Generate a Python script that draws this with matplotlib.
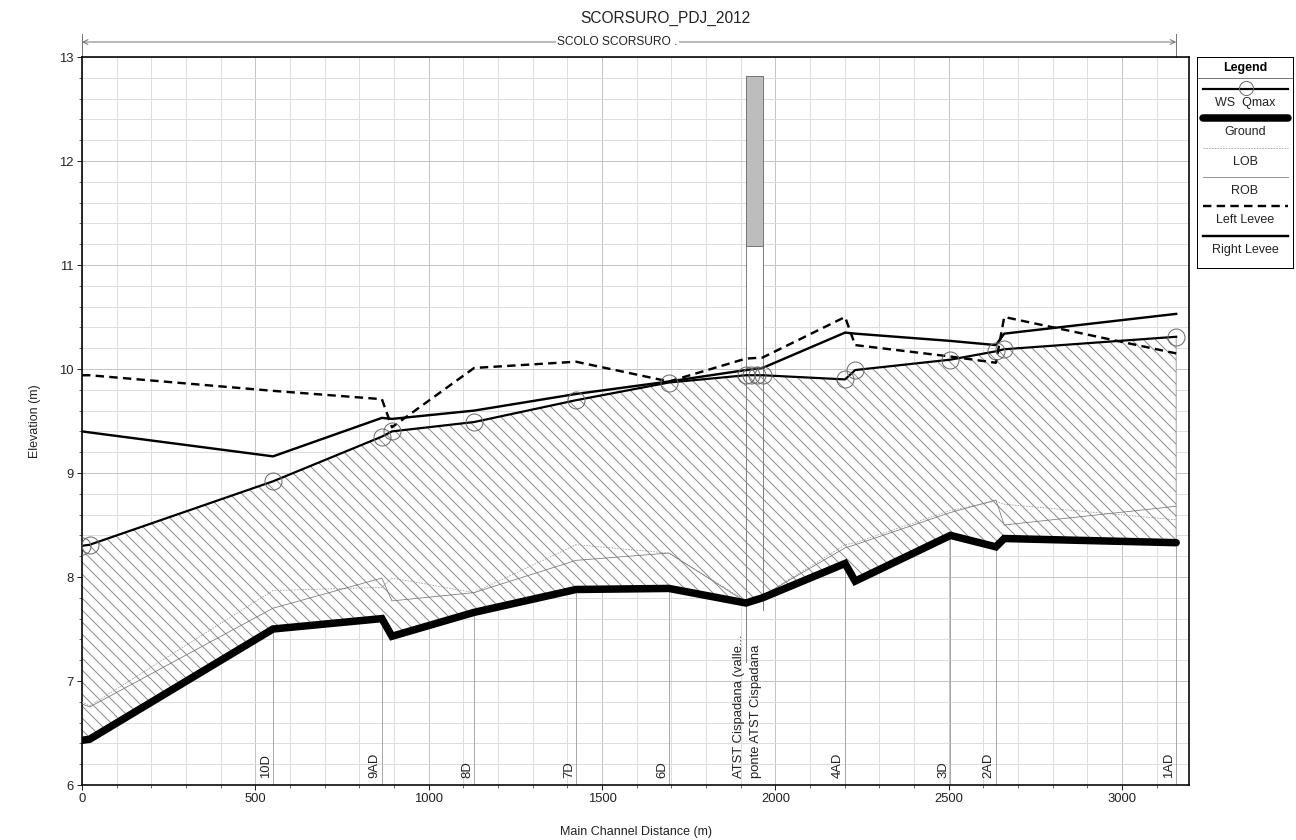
import matplotlib
matplotlib.use("Agg")
import matplotlib.pyplot as plt
from matplotlib.ticker import MultipleLocator
import numpy as np

plt.rcParams['font.family'] = ['Liberation Sans', 'DejaVu Sans']
plt.rcParams['hatch.color'] = '#8c8c8c'
plt.rcParams['hatch.linewidth'] = 1.0

# ---- profile data (main channel distance in m, elevations in m) ----
stations = [0, 22, 551, 865, 894, 1131, 1425, 1693, 1915, 1963, 2201, 2230, 2505, 2636, 2660, 3156]
ground = [6.43, 6.44, 7.50, 7.60, 7.43, 7.66, 7.88, 7.89, 7.75, 7.80, 8.13, 7.96, 8.40, 8.29, 8.37, 8.33]
ws_qmax = [8.30, 8.31, 8.92, 9.35, 9.40, 9.49, 9.70, 9.87, 9.94, 9.94, 9.90, 9.99, 10.09, 10.17, 10.19, 10.31]
lob = [6.80, 6.76, 7.87, 7.90, 7.99, 7.85, 8.31, 8.23, 7.77, 7.82, 8.31, 8.33, 8.64, 8.73, 8.70, 8.55]
rob = [6.78, 6.75, 7.70, 7.99, 7.77, 7.85, 8.16, 8.23, 7.76, 7.82, 8.28, 8.31, 8.62, 8.74, 8.50, 8.68]
left_levee = [9.94, 9.94, 9.79, 9.71, 9.44, 10.01, 10.07, 9.88, 10.10, 10.11, 10.50, 10.23, 10.12, 10.06, 10.50, 10.15]
right_levee = [9.40, 9.39, 9.16, 9.53, 9.52, 9.60, 9.76, 9.88, 9.99, 10.01, 10.35, 10.34, 10.27, 10.23, 10.34, 10.53]

# bridge internal sections
bridge_sections = [1930, 1948]
bridge_ws = [9.94, 9.94]

# labelled cross sections
label_stations = [551, 865, 1131, 1425, 1693, 1915, 1963, 2201, 2505, 2636, 3156]
label_texts = ['10D', '9AD', '8D', '7D', '6D', 'ATST Cispadana (valle...',
               'ponte ATST Cispadana', '4AD', '3D', '2AD', '1AD']

# bridge deck
bridge_up, bridge_down = 1915, 1963
deck_low, deck_high = 11.18, 12.82
pier_bottom = [7.18, 7.68]

reach_name = 'SCOLO SCORSURO .'
title = 'SCORSURO_PDJ_2012'

# ---- figure ----
W, H = 1296, 840
fig = plt.figure(figsize=(W / 72, H / 72), dpi=72)
ax = fig.add_axes([82 / W, 1 - 785 / H, (1189 - 82) / W, (785 - 57) / H])

ax.set_xlim(0, 3193)
ax.set_ylim(6, 13)
ax.xaxis.set_major_locator(MultipleLocator(500))
ax.xaxis.set_minor_locator(MultipleLocator(100))
ax.yaxis.set_major_locator(MultipleLocator(1))
ax.yaxis.set_minor_locator(MultipleLocator(0.2))
ax.grid(which='major', color='#c4c4c4', lw=1.0, zorder=0)
ax.grid(which='minor', color='#dedede', lw=1.0, zorder=0)
ax.set_axisbelow(True)
ax.tick_params(which='major', direction='out', length=5, width=1, labelsize=13, colors='#222222')
ax.tick_params(which='minor', direction='out', length=3, width=0.8, colors='#444444')
for s in ax.spines.values():
    s.set_linewidth(1.6)
    s.set_color('black')

st = np.array(stations, dtype=float)
gr = np.array(ground)
ws = np.array(ws_qmax)

# hatched flow area between ground and water surface
ax.fill_between(st, gr, ws, facecolor='white', edgecolor='#8c8c8c', hatch='\\\\', lw=0.8, zorder=1)

# labelled cross-section lines from bottom up to ground
for xs, lab in zip(label_stations, label_texts):
    g = np.interp(xs, st, gr)
    if xs not in (bridge_up, bridge_down):
        ax.plot([xs, xs], [6, g], color='#a0a0a0', lw=0.9, zorder=1.5)
    ax.text(xs - 3, 6.07, lab, rotation=90, ha='left', va='bottom',
            fontsize=13, color='#222222', zorder=6, rotation_mode='anchor')

# bridge: opening above water, deck, pier lines
top_wl = max(np.interp(bridge_up, st, np.array(left_levee)), np.interp(bridge_down, st, np.array(left_levee)))
ax.fill_between([bridge_up, bridge_down], [top_wl, top_wl], [deck_low, deck_low],
                facecolor='white', edgecolor='none', zorder=1.2)
ax.fill_between([bridge_up, bridge_down], [deck_low, deck_low], [deck_high, deck_high],
                facecolor='#bdbdbd', edgecolor='#777777', lw=1.0, zorder=2)
ax.plot([bridge_up, bridge_up], [pier_bottom[0], deck_low], color='#808080', lw=1.0, zorder=2)
ax.plot([bridge_down, bridge_down], [pier_bottom[1], deck_low], color='#808080', lw=1.0, zorder=2)

# bank stations
ax.plot(st, lob, color='#9a9a9a', lw=0.8, ls=(0, (2, 1.5)), zorder=3)
ax.plot(st, rob, color='#7a7a7a', lw=0.8, zorder=3)

# levees
ax.plot(st, left_levee, color='black', lw=2.4, ls=(0, (3.5, 2.2)), zorder=4)
ax.plot(st, right_levee, color='black', lw=2.4, zorder=4)

# ground
ax.plot(st, gr, color='black', lw=7.5, solid_capstyle='round', solid_joinstyle='miter', zorder=5)

# water surface with section markers
ax.plot(st, ws, color='black', lw=2.2, zorder=5)
ax.plot(st, ws, ls='none', marker='o', ms=17, mfc='none', mec='#6a6a6a', mew=1.0, zorder=5.5)
ax.plot(bridge_sections, bridge_ws, ls='none', marker='o', ms=17, mfc='none', mec='#6a6a6a', mew=1.0, zorder=5.5)

# axis labels and title
ax.set_xlabel('Main Channel Distance (m)', fontsize=12.5, labelpad=20, color='#222222')
ax.set_ylabel('Elevation (m)', fontsize=12.5, labelpad=18, color='#222222')
fig.text(665 / W, 1 - 18 / H, title, ha='center', va='center', fontsize=15.5, color='#222222')

# reach extent arrow
xt = ax.get_xaxis_transform()
y_arr = (785 - 42) / (785 - 57)
y_top = (785 - 34) / (785 - 57)
ax.annotate('', xy=(0, y_arr), xytext=(stations[-1], y_arr), xycoords=xt, textcoords=xt,
            arrowprops=dict(arrowstyle='<->', color='#777777', lw=1.0, shrinkA=0, shrinkB=0,
                            mutation_scale=12))
for xe in (0, stations[-1]):
    ax.plot([xe, xe], [1.0, y_top], transform=xt, color='#777777', lw=1.0, clip_on=False)
ax.text(1545, y_arr, reach_name, transform=xt, ha='center', va='center', fontsize=12,
        color='#222222', bbox=dict(facecolor='white', edgecolor='none', pad=1.5))

# legend box
lg = fig.add_axes([1197 / W, 1 - 268 / H, 96 / W, 211 / H])
lg.set_xlim(0, 96)
lg.set_ylim(211, 0)
lg.set_xticks([])
lg.set_yticks([])
for s in lg.spines.values():
    s.set_linewidth(1.0)
lg.text(48, 11, 'Legend', ha='center', va='center', fontsize=12.5, fontweight='bold')
lg.plot([0, 96], [21, 21], color='#555555', lw=0.8)
entries = [
    ('WS  Qmax', dict(color='black', lw=2.2)),
    ('Ground', dict(color='black', lw=7.5, solid_capstyle='round')),
    ('LOB', dict(color='#9a9a9a', lw=0.8, ls=(0, (2, 1.5)))),
    ('ROB', dict(color='#7a7a7a', lw=0.8)),
    ('Left Levee', dict(color='black', lw=2.4, ls=(0, (3.5, 2.2)))),
    ('Right Levee', dict(color='black', lw=2.4)),
]
for i, (name, style) in enumerate(entries):
    yl = 32 + i * 29.3
    lg.plot([6, 91], [yl, yl], **style)
    lg.text(48, yl + 14, name, ha='center', va='center', fontsize=12.5, color='#222222')
lg.plot([49], [31], ls='none', marker='o', ms=14, mfc='none', mec='#6a6a6a', mew=1.0)

fig.savefig('out.png', dpi=72)
